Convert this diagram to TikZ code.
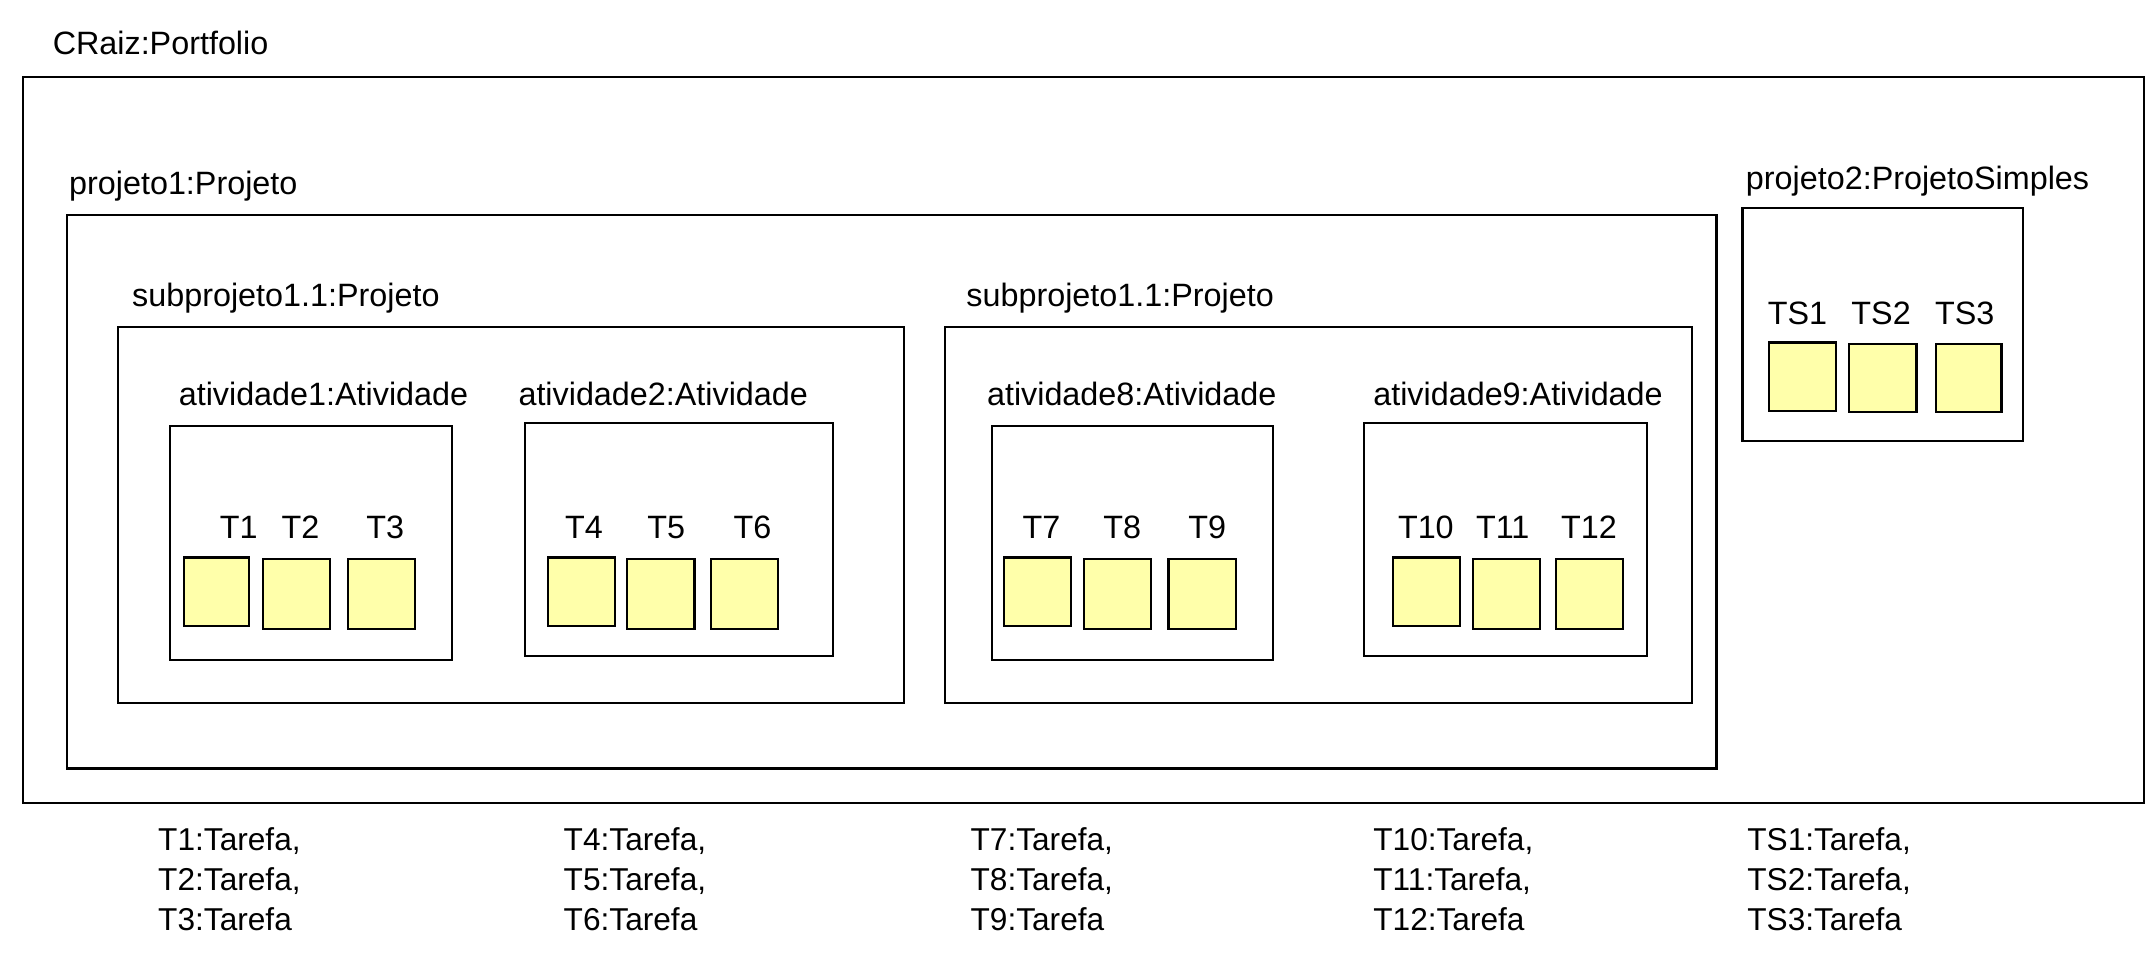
\documentclass[tikz,border=0pt]{standalone}
\usepackage{fontspec}
\setmainfont{Liberation Sans}
\usetikzlibrary{fit}
\definecolor{tyellow}{HTML}{FFFFAA}
\tikzset{
  box/.style={draw=black, line width=0.6pt, inner sep=0pt, fill=none},
  task/.style={draw=black, line width=0.6pt, inner sep=0pt, fill=tyellow},
  lbl/.style={anchor=base west, inner sep=0pt, font=\fontsize{9.2}{11}\selectfont},
  lst/.style={anchor=base west, inner sep=0pt, align=left, font=\fontsize{9}{11.3}\selectfont}
}
\begin{document}
\begin{tikzpicture}[x=0.0137cm,y=-0.0137cm]
\useasboundingbox[fill=white] (0,0) rectangle (1568,695);
% outer
\node[lbl] (lroot) at (38,40) {CRaiz:Portfolio};
\node[box, fit={(17,56) (1565,586)}] (root) {};
% projeto1
\node[lbl] (lp1) at (50,142) {projeto1:Projeto};
\node[box, fit={(49,157) (1253,561)}] (p1) {};
% subprojeto A
\node[lbl] (lsa) at (96,224) {subprojeto1.1:Projeto};
\node[box, fit={(86,239) (660,513)}] (sa) {};
\node[lbl] (la1) at (130,296) {atividade1:Atividade};
\node[box, fit={(124,311) (330,482)}] (a1) {};
\node[lbl] (la2) at (378,296) {atividade2:Atividade};
\node[box, fit={(383,309) (608,479)}] (a2) {};
% subprojeto B
\node[lbl] (lsb) at (705,224) {subprojeto1.1:Projeto};
\node[box, fit={(690,239) (1235,513)}] (sb) {};
\node[lbl] (la8) at (720,296) {atividade8:Atividade};
\node[box, fit={(724,311) (929,482)}] (a8) {};
\node[lbl] (la9) at (1002,296) {atividade9:Atividade};
\node[box, fit={(996,309) (1202,479)}] (a9) {};
% projeto2
\node[lbl] (lp2) at (1274,138) {projeto2:ProjetoSimples};
\node[box, fit={(1272,152) (1477,322)}] (p2) {};
% tasks
\node[lbl] (lt1) at (160,393) {T1};
\node[task, fit={(134,407) (182,457)}] (t1) {};
\node[lbl] (lt2) at (205,393) {T2};
\node[task, fit={(192,408) (241,459)}] (t2) {};
\node[lbl] (lt3) at (267,393) {T3};
\node[task, fit={(254,408) (303,459)}] (t3) {};
\node[lbl] (lt4) at (412,393) {T4};
\node[task, fit={(400,407) (449,457)}] (t4) {};
\node[lbl] (lt5) at (472,393) {T5};
\node[task, fit={(458,408) (507,459)}] (t5) {};
\node[lbl] (lt6) at (535,393) {T6};
\node[task, fit={(519,408) (568,459)}] (t6) {};
\node[lbl] (lt7) at (746,393) {T7};
\node[task, fit={(733,407) (782,457)}] (t7) {};
\node[lbl] (lt8) at (805,393) {T8};
\node[task, fit={(791,408) (840,459)}] (t8) {};
\node[lbl] (lt9) at (867,393) {T9};
\node[task, fit={(853,408) (902,459)}] (t9) {};
\node[lbl] (lt10) at (1020,393) {T10};
\node[task, fit={(1017,407) (1066,457)}] (t10) {};
\node[lbl] (lt11) at (1077,393) {T11};
\node[task, fit={(1075,408) (1124,459)}] (t11) {};
\node[lbl] (lt12) at (1139,393) {T12};
\node[task, fit={(1136,408) (1185,459)}] (t12) {};
\node[lbl] (lts1) at (1290,237) {TS1};
\node[task, fit={(1291,250) (1340,300)}] (ts1) {};
\node[lbl] (lts2) at (1351,237) {TS2};
\node[task, fit={(1350,251) (1399,301)}] (ts2) {};
\node[lbl] (lts3) at (1412,237) {TS3};
\node[task, fit={(1413,251) (1461,301)}] (ts3) {};
% bottom lists
\node[lst] (la) at (115,679) {T1:Tarefa,\\T2:Tarefa,\\T3:Tarefa};
\node[lst] (lb) at (411,679) {T4:Tarefa,\\T5:Tarefa,\\T6:Tarefa};
\node[lst] (lc) at (708,679) {T7:Tarefa,\\T8:Tarefa,\\T9:Tarefa};
\node[lst] (ld) at (1002,679) {T10:Tarefa,\\T11:Tarefa,\\T12:Tarefa};
\node[lst] (le) at (1275,679) {TS1:Tarefa,\\TS2:Tarefa,\\TS3:Tarefa};
\end{tikzpicture}
\end{document}
